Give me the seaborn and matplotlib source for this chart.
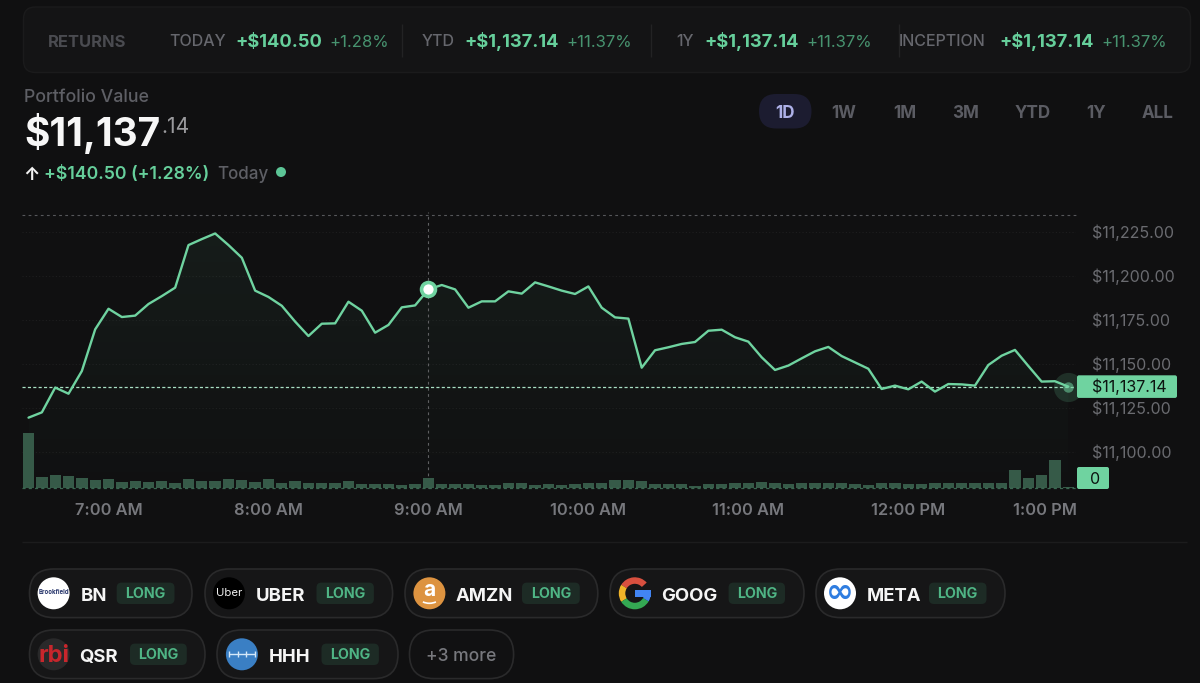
#----------------------------------
# Step 1: Import Required Libraries
#----------------------------------
import numpy as np
import pandas as pd
import matplotlib
matplotlib.use("Agg")
import matplotlib.pyplot as plt
import seaborn as sns
from matplotlib.patches import FancyBboxPatch, Circle, Wedge, Rectangle, Arc
from matplotlib.transforms import ScaledTranslation

#----------------------------------
# Step 2: Chart Data
#----------------------------------
# one sample every 5 minutes, starting 6:30 AM
portfolio_values = [
    11119.5, 11122.5, 11136.6, 11133.1, 11146.0, 11169.7, 11181.4, 11176.7,
    11177.5, 11184.1, 11188.6, 11193.4, 11217.6, 11221.0, 11224.2, 11217.6,
    11210.4, 11191.7, 11188.1, 11183.1, 11174.1, 11165.9, 11172.9, 11173.1,
    11185.4, 11180.3, 11167.8, 11172.2, 11182.2, 11183.3, 11192.4, 11194.9,
    11192.4, 11182.0, 11185.6, 11185.6, 11191.3, 11190.0, 11196.4, 11194.1,
    11191.7, 11189.8, 11194.1, 11182.0, 11176.5, 11175.8, 11147.9, 11157.8,
    11159.5, 11161.4, 11162.5, 11168.9, 11169.5, 11165.2, 11162.7, 11153.8,
    11146.6, 11149.1, 11153.2, 11157.2, 11159.7, 11154.5, 11150.9, 11147.3,
    11135.8, 11137.7, 11135.6, 11140.0, 11134.3, 11138.6, 11138.4, 11137.7,
    11149.4, 11154.7, 11158.0, 11148.9, 11140.0, 11140.2, 11137.14,
]
volumes = [
    164, 33, 39, 35, 29, 24, 26, 18, 21, 18, 22, 15, 28, 20, 20, 26,
    23, 18, 26, 15, 20, 16, 16, 16, 20, 13, 11, 13, 10, 11, 31, 11,
    11, 11, 9, 9, 14, 14, 8, 11, 8, 11, 14, 14, 23, 23, 20, 13,
    11, 11, 6, 11, 11, 14, 14, 18, 14, 11, 15, 16, 14, 14, 11, 8,
    14, 16, 11, 11, 14, 16, 14, 16, 16, 16, 53, 29, 40, 85, 2,
]
time_ticks = [6, 18, 30, 42, 54, 66, 78]
time_labels = ["7:00 AM", "8:00 AM", "9:00 AM", "10:00 AM", "11:00 AM", "12:00 PM", "1:00 PM"]
price_ticks = [11100, 11125, 11150, 11175, 11200, 11225]
hover_index = 30
last_price = portfolio_values[-1]

periods = ["1D", "1W", "1M", "3M", "YTD", "1Y", "ALL"]
period_centers = [785, 844, 905, 966, 1032.5, 1096, 1158]

df = pd.DataFrame({"idx": range(len(portfolio_values)), "value": portfolio_values, "volume": volumes})

#----------------------------------
# Step 3: Theme
#----------------------------------
BG = "#101011"
GREEN = "#6fd3a0"
GREY = "#6a6b70"
sns.set_theme(style="dark", rc={"figure.facecolor": BG, "axes.facecolor": "none", "savefig.facecolor": BG})
plt.rcParams["font.family"] = ["Inter", "DejaVu Sans"]

fig = plt.figure(figsize=(12, 6.83), dpi=100)

# whole-figure layer in pixels for the page furniture
ui = fig.add_axes([0, 0, 1, 1])
ui.set_xlim(0, 1200)
ui.set_ylim(683, 0)
ui.axis("off")


def put(x, y, s, px, color, weight="normal", ha="left", **kw):
    # y is the middle of the capitals, size is in pixels
    return ui.text(x, y + 0.364 * px, s, fontsize=px * 0.72, color=color, fontweight=weight,
                   ha=ha, va="baseline", **kw)


def pill(x0, y0, x1, y1, face, edge="none", radius=None, lw=1.0):
    r = (y1 - y0) / 2 if radius is None else radius
    ui.add_patch(FancyBboxPatch((x0, y0), x1 - x0, y1 - y0, boxstyle=f"round,pad=0,rounding_size={r}",
                                facecolor=face, edgecolor=edge, linewidth=lw))


#----------------------------------
# Step 4: Returns Card
#----------------------------------
pill(23.5, 7, 1190.5, 72.5, "#141415", "#1b1b1c", radius=12)
put(48, 40.5, "RETURNS", 16.5, "#4a4b50", "bold")
returns_row = [
    (169.5, "TODAY", 235.5, "+$140.50", 329, "+1.28%"),
    (421.5, "YTD", 464.5, "+$1,137.14", 566, "+11.37%"),
    (676.5, "1Y", 704.5, "+$1,137.14", 806, "+11.37%"),
    (898.5, "INCEPTION", 999.5, "+$1,137.14", 1101, "+11.37%"),
]
for x0, name, x1, money, x2, pct in returns_row:
    put(x0, 40.5, name, 16, "#66676d", "medium")
    put(x1, 40.5, money, 18.3, "#66cf9b", "bold")
    put(x2, 40.5, pct, 16.7, "#47936f")
ui.vlines([402, 650.5, 898.5], 24, 57, color="#232324", linewidth=1)

#----------------------------------
# Step 5: Portfolio Header and Period Buttons
#----------------------------------
put(24, 96, "Portfolio Value", 17.8, "#5e5f65", "medium")
put(24, 132, "$11,137", 38.8, "#f7f7f7", "bold")
put(161, 125, ".14", 21, "#9a9a9d")
put(23, 173, "↑", 18, "#f2f2f2", "bold")
put(44, 173, "+$140.50 (+1.28%)", 17.7, "#66cf9b", "semibold")
put(217, 173, "Today", 17, "#5e5f65", "medium")
ui.add_patch(Circle((281, 172), 5, facecolor="#5cc596", edgecolor="none"))

pill(759, 94, 811.5, 128.5, "#1c1c30")
for name, xc in zip(periods, period_centers):
    put(xc, 112, name, 17, "#aeb1e8" if name == "1D" else "#5b5c63", "bold", ha="center")

#----------------------------------
# Step 6: Value Line and Volume Bars
#----------------------------------
ax = fig.add_axes([22 / 1200, 1 - 488 / 683, 1054 / 1200, 273 / 683])
ax_vol = ax.twinx()

sns.barplot(data=df, x="idx", y="volume", ax=ax_vol, color="#365a48", width=0.85, saturation=1,
            native_scale=True, linewidth=0, edgecolor="none")
sns.lineplot(data=df, x="idx", y="value", ax=ax, color=GREEN, linewidth=1.7, zorder=5)

xlim = (-0.49, 78.58)
ylim = (11079.5, 11234.7)

# soft fade under the line
fill = ax.fill_between(df["idx"], df["value"], ylim[0], color="none")
fade = np.zeros((256, 1, 4))
fade[..., 0], fade[..., 1], fade[..., 2] = 0.435, 0.827, 0.627
fade[:, 0, 3] = np.linspace(0.07, 0.004, 256)
im = ax.imshow(fade, extent=(0, 78, ylim[0], ylim[1]), aspect="auto", origin="upper", zorder=1)
im.set_clip_path(fill.get_paths()[0], transform=ax.transData)

ax.set_xlim(xlim)
ax.set_ylim(ylim)
ax_vol.set_xlim(xlim)
ax_vol.set_ylim(0, 819)
ax_vol.set_yticks([])
ax_vol.set_ylabel("")
ax_vol.grid(False)
ax.set_xlabel("")
ax.set_ylabel("")

# guides
ax.hlines(price_ticks, xlim[0], xlim[1], color="#1e1e1f", linewidth=0.8, linestyles=(0, (1, 2)), zorder=0)
ax.axhline(ylim[1], color="#56575a", linewidth=0.8, linestyle=(0, (2.5, 3)), clip_on=False)
ax.axhline(last_price, color="#a9e0c4", linewidth=0.9, linestyle=(0, (2.5, 1.8)), zorder=4)
ax.axvline(hover_index, ymax=1.01, color="#5f6062", linewidth=0.8, linestyle=(0, (2.5, 3)), clip_on=False, zorder=2)
ax_vol.axhline(0, color=GREEN, alpha=0.45, linewidth=0.9, linestyle=(0, (2.5, 2.5)), clip_on=False)

# hover point and live point
ax.plot(hover_index, portfolio_values[hover_index], "o", ms=10, mfc="white", mec=GREEN, mew=2.6, zorder=7)
ax.plot(78, last_price, "o", ms=21, mfc=GREEN, mec="none", alpha=0.16, zorder=6, clip_on=False)
ax.plot(78, last_price, "o", ms=7.5, mfc=GREEN, mec="none", alpha=0.55, zorder=6, clip_on=False)

# axes
ax.yaxis.tick_right()
ax.set_yticks(price_ticks)
ax.set_yticklabels([f"${v:,.2f}" for v in price_ticks], fontsize=16 * 0.72, color=GREY)
ax.set_xticks(time_ticks)
ax.set_xticklabels(time_labels, fontsize=16.4 * 0.72, color="#77787d", fontweight="semibold")
ax.tick_params(axis="y", length=0, pad=16 * 0.72)
ax.tick_params(axis="x", length=0, pad=15 * 0.72)
ax.grid(False)
for spine in list(ax.spines.values()) + list(ax_vol.spines.values()):
    spine.set_visible(False)

# price labels sit a pixel higher, last time label is pushed left to stay inside the plot
for lab in ax.get_yticklabels():
    lab.set_transform(lab.get_transform() + ScaledTranslation(0, 1 / 100, fig.dpi_scale_trans))
last_tick = ax.get_xticklabels()[-1]
last_tick.set_ha("right")
last_tick.set_transform(last_tick.get_transform() + ScaledTranslation(9 / 100, 0, fig.dpi_scale_trans))

#----------------------------------
# Step 7: Price and Volume Tags
#----------------------------------
tag_y = 683 - ax.transData.transform((0, last_price))[1]
ui.set_zorder(0)
top = fig.add_axes([0, 0, 1, 1], facecolor="none")
top.set_xlim(0, 1200)
top.set_ylim(683, 0)
top.axis("off")
top.add_patch(FancyBboxPatch((1077, tag_y - 11.3), 100, 22.6, boxstyle="round,pad=0,rounding_size=2",
                             facecolor=GREEN, edgecolor="none"))
top.text(1092, tag_y + 5.8, f"${last_price:,.2f}", fontsize=16 * 0.72, color="#0c1410", va="baseline")
top.add_patch(FancyBboxPatch((1077, 467), 32, 22, boxstyle="round,pad=0,rounding_size=2",
                             facecolor=GREEN, edgecolor="none"))
top.text(1095, 484, "0", fontsize=16 * 0.72, color="#0c1410", va="baseline", ha="center")

#----------------------------------
# Step 8: Position Chips
#----------------------------------
ui.hlines(542, 22, 1187, color="#1c1c1d", linewidth=1)

# ticker, chip left, chip right, top, text x, badge left, badge right
chips = [
    ("BN", 29.5, 192, 569, 80.4, 116.7, 174.5),
    ("UBER", 205, 392.6, 569, 255.6, 316.5, 373.9),
    ("AMZN", 405, 597.8, 569, 456, 522, 579.8),
    ("GOOG", 610, 804, 569, 661, 728.6, 785),
    ("META", 816, 1005, 569, 867, 929, 986.5),
    ("QSR", 29.5, 205, 630, 79.6, 130, 186.8),
    ("HHH", 217, 398, 630, 268.6, 321.5, 378.9),
]
logo_x = {"BN": 53.6, "UBER": 229, "AMZN": 429.4, "GOOG": 634.8, "META": 840, "QSR": 53.6, "HHH": 241.9}

for ticker, x0, x1, y0, tx, b0, b1 in chips:
    yc = y0 + 24.3
    pill(x0, y0, x1, y0 + 48.6, "#161617", "#2a2a2b", lw=1.2)
    put(tx, yc + 0.5, ticker, 18.5, "#f5f5f5", "bold")
    pill(b0, yc - 10.7, b1, yc + 10.7, "#1d2b25", radius=5)
    put((b0 + b1) / 2, yc, "LONG", 14.2, "#4fb585", "bold", ha="center")

    lx = logo_x[ticker]
    if ticker == "BN":
        ui.add_patch(Circle((lx, yc), 16, facecolor="white", edgecolor="none"))
        ui.text(lx, yc - 1, "Brookfield", fontsize=4.4, color="#27356b", fontweight="bold", ha="center", va="center")
    elif ticker == "UBER":
        ui.add_patch(Circle((lx, yc), 16, facecolor="black", edgecolor="none"))
        ui.text(lx, yc - 0.5, "Uber", fontsize=8.2, color="#f0f0f0", ha="center", va="center")
    elif ticker == "AMZN":
        ui.add_patch(Circle((lx, yc), 16, facecolor="#dd9340", edgecolor="none"))
        ui.text(lx, yc - 3, "a", fontsize=15, color="white", fontweight="bold", ha="center", va="center")
        ui.add_patch(Arc((lx, yc + 4), 20, 12, theta1=35, theta2=145, color="white", linewidth=1.2))
    elif ticker == "GOOG":
        for t1, t2, col in [(212, 318, "#d9503f"), (148, 212, "#f0b429"), (30, 148, "#34a853"), (0, 30, "#4285f4")]:
            ui.add_patch(Wedge((lx, yc), 16, t1, t2, width=6.5, facecolor=col, edgecolor="none"))
        ui.add_patch(Rectangle((lx, yc - 3), 16, 6.5, facecolor="#4285f4", edgecolor="none"))
    elif ticker == "META":
        ui.add_patch(Circle((lx, yc), 16, facecolor="white", edgecolor="none"))
        ui.text(lx, yc - 1, "∞", fontsize=24, color="#2f7de0", fontweight="bold", ha="center", va="center",
                family="DejaVu Sans")
    elif ticker == "QSR":
        ui.add_patch(Circle((lx, yc), 16, facecolor="#29292a", edgecolor="none"))
        ui.text(lx, yc + 1.5, "rbi", fontsize=17, color="#c8262c", fontweight="bold", ha="center", va="center")
    elif ticker == "HHH":
        ui.add_patch(Circle((lx, yc), 16, facecolor="#3a7fc4", edgecolor="none"))
        ui.hlines(yc, lx - 13, lx + 13, color="#d5e8f8", linewidth=1)
        ui.vlines([lx - 13, lx - 4, lx + 4, lx + 13], yc - 3, yc + 3, color="#d5e8f8", linewidth=1)

pill(409.5, 630, 513.6, 678.6, "#111112", "#2a2a2b", lw=1.2)
put(461.5, 654.5, "+3 more", 17.5, "#77787d", "medium", ha="center")

#----------------------------------
# Step 9: Save
#----------------------------------
fig.savefig("out.png", dpi=100)
